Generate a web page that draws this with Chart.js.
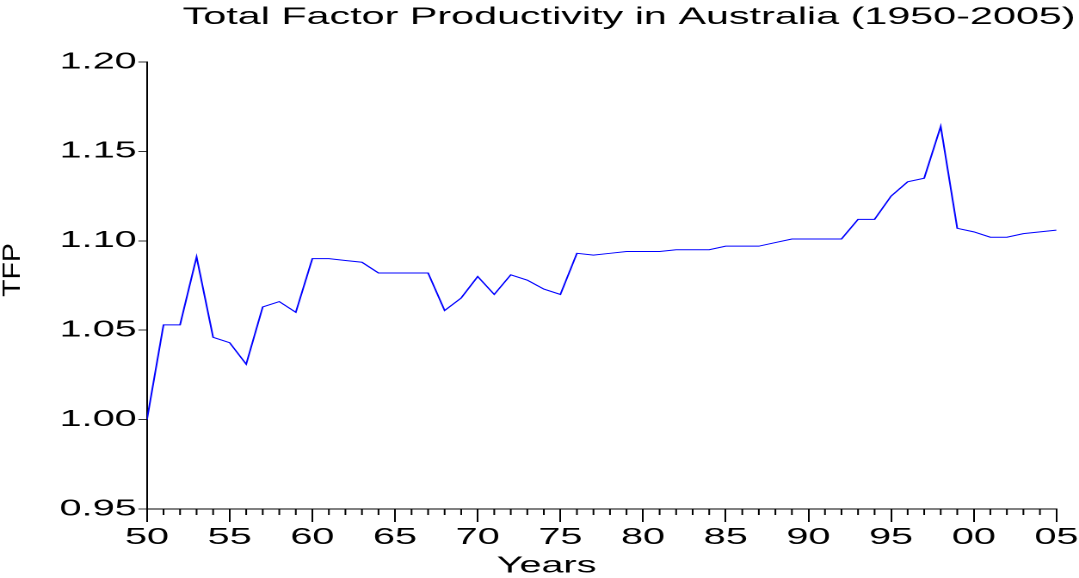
<!DOCTYPE html>
<html>
<head>
<meta charset="utf-8">
<script src="https://cdn.jsdelivr.net/npm/chart.js@4"></script>
<style>
  html, body { margin: 0; padding: 0; background: #fff; overflow: hidden; }
  /* the original graph is stretched sideways, so draw narrow and widen */
  #wrap { position: absolute; left: 0; top: 0; width: 627px; height: 578px;
          transform: scaleX(1.7209); transform-origin: 0 0; }
</style>
</head>
<body>
<div id="wrap"><canvas id="tfp" width="627" height="578"></canvas></div>
<script>
const years = [1950, 1951, 1952, 1953, 1954, 1955, 1956, 1957, 1958, 1959,
               1960, 1961, 1962, 1963, 1964, 1965, 1966, 1967, 1968, 1969,
               1970, 1971, 1972, 1973, 1974, 1975, 1976, 1977, 1978, 1979,
               1980, 1981, 1982, 1983, 1984, 1985, 1986, 1987, 1988, 1989,
               1990, 1991, 1992, 1993, 1994, 1995, 1996, 1997, 1998, 1999,
               2000, 2001, 2002, 2003, 2004, 2005];
const tfp = [1.000, 1.053, 1.053, 1.091, 1.046, 1.043, 1.031, 1.063, 1.066, 1.060,
             1.090, 1.090, 1.089, 1.088, 1.082, 1.082, 1.082, 1.082, 1.061, 1.068,
             1.080, 1.070, 1.081, 1.078, 1.073, 1.070, 1.093, 1.092, 1.093, 1.094,
             1.094, 1.094, 1.095, 1.095, 1.095, 1.097, 1.097, 1.097, 1.099, 1.101,
             1.101, 1.101, 1.101, 1.112, 1.112, 1.125, 1.133, 1.135, 1.164, 1.107,
             1.105, 1.102, 1.102, 1.104, 1.105, 1.106];
const xMajor = [1950, 1955, 1960, 1965, 1970, 1975, 1980, 1985, 1990, 1995, 2000, 2005];
const yTicks = [0.95, 1.00, 1.05, 1.10, 1.15, 1.20];

const FONT = "'Liberation Sans', Arial, sans-serif";

// minor year ticks, the Years label and the rotated TFP label
const extras = {
  id: 'extras',
  afterDraw(chart) {
    const ctx = chart.ctx;
    const x = chart.scales.x;
    ctx.save();
    ctx.strokeStyle = '#000';
    ctx.lineWidth = 1;
    ctx.beginPath();
    years.forEach(yr => {
      if (yr % 5 === 0) return;
      const px = x.getPixelForValue(yr);
      ctx.moveTo(px, x.top);
      ctx.lineTo(px, x.top + 6);
    });
    ctx.stroke();

    ctx.fillStyle = '#000';
    ctx.textAlign = 'center';
    ctx.textBaseline = 'middle';
    ctx.font = '23px ' + FONT;
    ctx.fillText('Years', 317.6, 566);

    ctx.translate(7.6, 270);
    ctx.rotate(-Math.PI / 2);
    ctx.scale(1.9, 1);
    ctx.font = '15px ' + FONT;
    ctx.fillText('TFP', 0, 0);
    ctx.restore();
  }
};

new Chart(document.getElementById('tfp'), {
  type: 'line',
  data: {
    datasets: [{
      label: 'TFP',
      data: years.map((yr, i) => ({ x: yr, y: tfp[i] })),
      borderColor: '#0000ff',
      borderWidth: 1,
      pointRadius: 0,
      tension: 0,
      fill: false
    }]
  },
  options: {
    responsive: false,
    animation: false,
    devicePixelRatio: 2,
    layout: { padding: { right: 2 } },
    plugins: {
      legend: { display: false },
      tooltip: { enabled: false },
      title: {
        display: true,
        text: 'Total Factor Productivity in Australia (1950-2005)',
        align: 'end',
        color: '#000',
        font: { family: FONT, size: 24, weight: 'normal' },
        padding: { top: 3, bottom: 30.2 }
      }
    },
    scales: {
      x: {
        type: 'linear',
        min: 1950,
        max: 2005,
        afterBuildTicks: s => { s.ticks = xMajor.map(v => ({ value: v })); },
        afterFit: s => { s.height = 69; s.paddingRight = 13.1; },
        grid: { drawOnChartArea: false, tickLength: 13, color: '#000' },
        border: { color: '#000', width: 1 },
        ticks: {
          autoSkip: false,
          maxRotation: 0,
          padding: 2,
          color: '#000',
          font: { family: FONT, size: 23 },
          callback: v => String(v).slice(2)
        }
      },
      y: {
        min: 0.95,
        max: 1.20,
        afterBuildTicks: s => { s.ticks = yTicks.map(v => ({ value: v })); },
        afterFit: s => { s.width = 85.4; },
        grid: { drawOnChartArea: false, tickLength: 5, color: '#333' },
        border: { color: '#000', width: 1 },
        ticks: {
          padding: 1,
          color: '#000',
          font: { family: FONT, size: 23 },
          callback: v => v.toFixed(2)
        }
      }
    }
  },
  plugins: [extras]
});
</script>
</body>
</html>
